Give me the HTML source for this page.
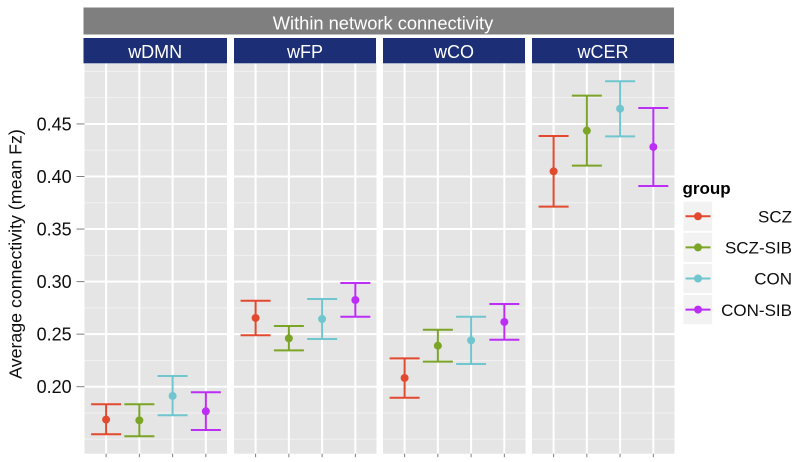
<!DOCTYPE html>
<html>
<head>
<meta charset="utf-8">
<style>
html,body{margin:0;padding:0;background:#fff;width:800px;height:462px;overflow:hidden}
svg{display:block;font-family:"Liberation Sans",sans-serif}
</style>
</head>
<body>
<svg id="chart" width="800" height="462" viewBox="0 0 800 462" xmlns="http://www.w3.org/2000/svg">
<g id="stage" filter="url(#soft)"></g>
<defs><filter id="soft" x="0" y="0" width="100%" height="100%"><feGaussianBlur stdDeviation="0.35"/></filter></defs>
</svg>
<script>
const networks = ['wDMN', 'wFP', 'wCO', 'wCER'];
const groups = ['SCZ', 'SCZ-SIB', 'CON', 'CON-SIB'];
const colors = ['#E2492F', '#7BA428', '#6FC6CF', '#BC2FF5'];
const yTicks = ['0.20', '0.25', '0.30', '0.35', '0.40', '0.45'];
const yMinor = [0.15, 0.175, 0.225, 0.275, 0.325, 0.375, 0.425, 0.475, 0.5];
const means = [
  [0.1687, 0.1680, 0.1912, 0.1766],
  [0.2654, 0.2460, 0.2644, 0.2825],
  [0.2083, 0.2390, 0.2441, 0.2616],
  [0.4049, 0.4436, 0.4645, 0.4281]
];
const uppers = [
  [0.1833, 0.1833, 0.2102, 0.1947],
  [0.2818, 0.2578, 0.2834, 0.2987],
  [0.2270, 0.2542, 0.2666, 0.2787],
  [0.4385, 0.4769, 0.4906, 0.4652]
];
const lowers = [
  [0.1547, 0.1528, 0.1728, 0.1588],
  [0.2489, 0.2346, 0.2454, 0.2666],
  [0.1895, 0.2238, 0.2216, 0.2447],
  [0.3713, 0.4103, 0.4382, 0.3910]
];

const NS = 'http://www.w3.org/2000/svg';
const stage = document.getElementById('stage');
function mk(tag, attrs, parent, txt) {
  const el = document.createElementNS(NS, tag);
  for (const k in attrs) el.setAttribute(k, attrs[k]);
  if (txt !== undefined) el.textContent = txt;
  (parent || stage).appendChild(el);
  return el;
}
const panelLeft = [84.5, 234, 383, 532];
const panelWidth = 142.5;
const stripLeft = [83.5, 234, 383, 532];
const panelTop = 63.5, panelBottom = 453.7;
const band = 33.25, firstOffset = 21.6;
function yPos(v) { return 386.7 - (v - 0.2) * 1051; }
function xPos(p, g) { return panelLeft[p] + firstOffset + g * band; }

const topStrip = mk('rect', {x: 83.5, y: 7.5, width: 590.5, height: 27, fill: '#7F7F7F'});


const topLabel = mk('text', {x: 383, y: 29.5, 'text-anchor': 'middle', 'font-size': 18.3, fill: '#fff'}, stage, 'Within network connectivity');



networks.forEach(function (name, p) {
  const strip = mk('rect', {x: stripLeft[p], y: 38, width: p === 0 ? 143.5 : 142, height: 25.3, fill: '#1A2F76'});
  
  
  const stripText = mk('text', {x: stripLeft[p] + (p === 0 ? 71.7 : 71), y: 58, 'text-anchor': 'middle', 'font-size': 18, fill: '#fff'}, stage, name);
  
  

  const panel = mk('rect', {x: panelLeft[p], y: panelTop, width: panelWidth, height: panelBottom - panelTop, fill: '#E5E5E5'});
  
  

  yMinor.forEach(function (v) {
    const line = mk('line', {x1: panelLeft[p], x2: panelLeft[p] + panelWidth, y1: yPos(v), y2: yPos(v), stroke: '#F2F2F2', 'stroke-width': 1});
    
    
  });
  yTicks.forEach(function (t) {
    const line = mk('line', {x1: panelLeft[p], x2: panelLeft[p] + panelWidth, y1: yPos(+t), y2: yPos(+t), stroke: '#fff', 'stroke-width': 2});
    
    
  });
  groups.forEach(function (g, i) {
    const x = xPos(p, i);
    const line = mk('line', {x1: x, x2: x, y1: panelTop, y2: panelBottom, stroke: '#fff', 'stroke-width': 2});
    
    
    const tick = mk('line', {x1: x, x2: x, y1: panelBottom, y2: panelBottom + 3.5, stroke: '#7F7F7F', 'stroke-width': 1});
    
    
  });
});

yTicks.forEach(function (t) {
  const y = yPos(+t);
  const tick = mk('line', {x1: 76.5, x2: 84.5, y1: y, y2: y, stroke: '#7F7F7F', 'stroke-width': 1});
  
  
  const label = mk('text', {x: 71.7, y: y + 6.5, 'text-anchor': 'end', 'font-size': 18, fill: '#111'}, stage, t);
  
  
});

const yTitle = mk('text', {transform: 'translate(21.5,254) rotate(-90)', 'text-anchor': 'middle', 'font-size': 17.8, fill: '#111'}, stage, 'Average connectivity (mean Fz)');



networks.forEach(function (name, p) {
  groups.forEach(function (g, i) {
    const x = xPos(p, i);
    const c = colors[i];
    const top = yPos(uppers[p][i]), low = yPos(lowers[p][i]), mid = yPos(means[p][i]);
    const stem = mk('line', {x1: x, x2: x, y1: top, y2: low, stroke: c, 'stroke-width': 2});
    
    
    const capTop = mk('line', {x1: x - 15, x2: x + 15, y1: top, y2: top, stroke: c, 'stroke-width': 2});
    
    
    const capLow = mk('line', {x1: x - 15, x2: x + 15, y1: low, y2: low, stroke: c, 'stroke-width': 2});
    
    
    const pt = mk('circle', {cx: x, cy: mid, r: 4, fill: c});
    
    
  });
});

const legendTitle = mk('text', {x: 682.5, y: 194, 'font-size': 17, 'font-weight': 'bold', fill: '#000'}, stage, 'group');


groups.forEach(function (g, i) {
  const top = 201.7 + i * 31.1;
  const key = mk('rect', {x: 683.5, y: top, width: 28.7, height: 29.2, fill: '#F2F2F2'});
  
  
  const ln = mk('line', {x1: 685.5, x2: 710.5, y1: top + 14.6, y2: top + 14.6, stroke: colors[i], 'stroke-width': 2});
  
  
  const dot = mk('circle', {cx: 698, cy: top + 14.6, r: 4, fill: colors[i]});
  
  
  const label = mk('text', {x: 792, y: top + 20.8, 'text-anchor': 'end', 'font-size': 17, fill: '#111'}, stage, g);
  
  
});
</script>
</body>
</html>
